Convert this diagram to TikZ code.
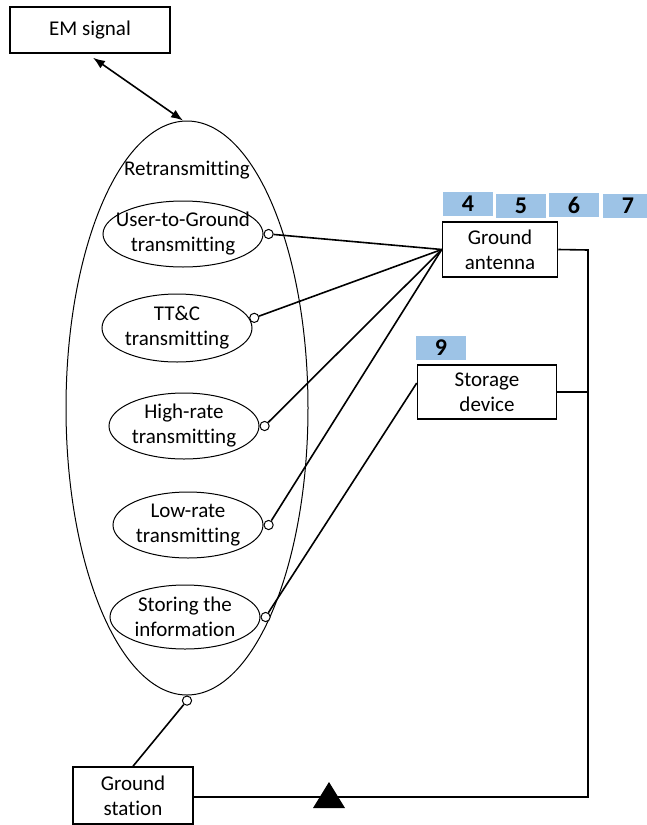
\documentclass[tikz,border=0pt]{standalone}
\usepackage{fontspec}
\setmainfont{Carlito}[Ligatures=NoCommon]
\usepackage{xcolor}
\usepackage{tikz}
\usetikzlibrary{arrows.meta,positioning,shapes.geometric,calc}
\definecolor{tagblue}{RGB}{157,195,230}

\begin{document}
\begin{tikzpicture}[
  x=0.5pt, y=-0.5pt,
  font=\fontsize{10.5}{12.5}\selectfont,
  box/.style={draw, line width=0.75pt, align=center, inner sep=0pt},
  ell/.style={draw, ellipse, line width=0.5pt, inner sep=0pt, minimum height=33pt},
  txt/.style={align=center, inner sep=0pt},
  tag/.style={fill=tagblue, inner sep=0pt, minimum width=25pt, minimum height=12pt, font=\fontsize{12}{12}\selectfont\bfseries},
  port/.style={draw, circle, fill=white, line width=0.5pt, inner sep=0pt, minimum size=4.6pt},
  conn/.style={line width=0.8pt},
  arr/.style={{Latex[length=6pt,width=4.5pt]}-{Latex[length=6pt,width=4.5pt]}, line width=0.8pt}
]
\useasboundingbox (0,0) rectangle (647,825);
\node[box, minimum width=80pt, minimum height=23pt] (em) at (90,30) {EM signal};
\node[ell, minimum width=121pt, minimum height=287pt] (retr) at (187,408) {};
\node[txt] (retr-t) at (187,170) {Retransmitting};
\node[ell, minimum width=80pt] (u2g) at (183,234) {};
\node[txt] (u2g-t) at (u2g) {User-to-Ground\\transmitting};
\node[ell, minimum width=75pt, minimum height=34pt] (ttc) at (177,328) {};
\node[txt] (ttc-t) at (ttc) {TT\&C\\transmitting};
\node[ell, minimum width=75pt] (high) at (184,426) {};
\node[txt] (high-t) at (high) {High-rate\\transmitting};
\node[ell, minimum width=75pt] (low) at (188,525) {};
\node[txt] (low-t) at (low) {Low-rate\\transmitting};
\node[ell, minimum width=75pt, minimum height=32pt] (info) at (185,617) {};
\node[txt] (info-t) at (info) {Storing the\\information};
\node[port, anchor=west] (u2gp) at (u2g.east) {};
\node[port, anchor=west] (ttcp) at (ttc.8) {};
\node[port, anchor=west] (highp) at (high.east) {};
\node[port, anchor=west] (lowp) at (low.east) {};
\node[port, anchor=west] (infop) at (info.east) {};
\node[port, anchor=north] (retrp) at (retr.south) {};
\node[box, minimum width=57.5pt, minimum height=27.5pt] (ant) at (500,249.5) {Ground\\antenna};
\node[box, minimum width=69.5pt, minimum height=27pt] (store) at (487,392) {Storage\\device};
\node[box, minimum width=60pt, minimum height=28.5pt] (gs) at (133,795.5) {Ground\\station};
\node[tag] (t4) at (468,204) {4};
\node[tag] (t5) at (521,206) {5};
\node[tag] (t6) at (574,205) {6};
\node[tag] (t7) at (628,205.5) {7};
\node[tag] (t9) at (441,348) {9};
\coordinate (bus-top) at (588,250);
\coordinate (bus-bot) at (588,797);
\coordinate (mid) at (329,797);
\draw[arr] ([shift={(3,4)}]em.south) -- ([xshift=-2]retr.north);
\draw[conn] (u2gp) -- (ant.west);
\draw[conn] (ttcp) -- (ant.west);
\draw[conn] (highp) -- (ant.west);
\draw[conn] (lowp) -- (ant.west);
\draw[conn] (infop) -- ([yshift=4.5pt]store.west);
\draw[conn] (gs.north) -- (retrp);
\draw[conn] (ant.east) -- (bus-top) -- (bus-bot) -- (gs.east |- bus-bot);
\draw[conn] (store.east) -- (store.east -| bus-top);
\fill ([shift={(-16,11)}]mid) -- ++(32,0) -- ++(-16,-26) -- cycle;
\end{tikzpicture}
\end{document}
